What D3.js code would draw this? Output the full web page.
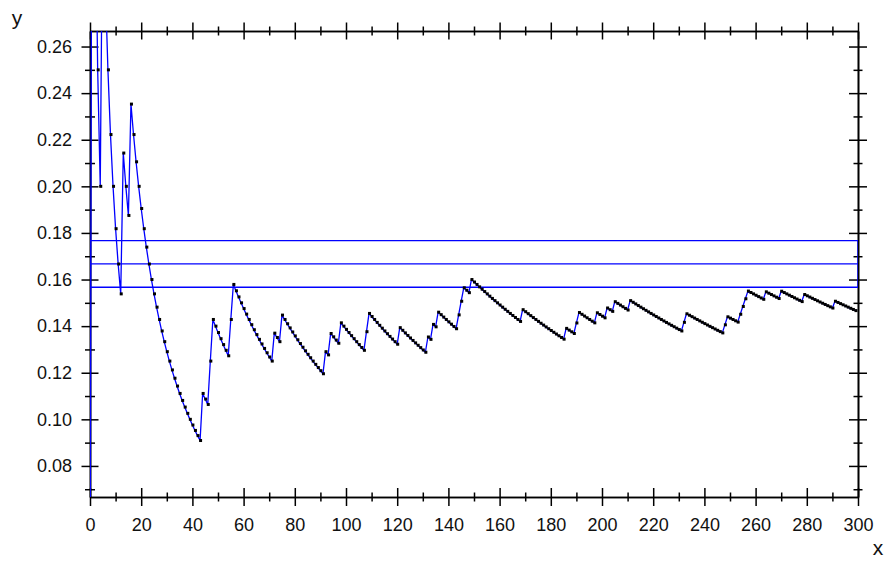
<!DOCTYPE html>
<html>
<head>
<meta charset="utf-8">
<script src="https://cdn.jsdelivr.net/npm/d3@7"></script>
<style>
  body { margin: 0; background: #fff; }
  svg { display: block; }
  text { font-family: "Liberation Sans", Arial, sans-serif; fill: #111; }
</style>
</head>
<body>
<svg id="chart" width="887" height="569"></svg>
<script>
// Roll numbers (1-based) on which a six came up, over 300 rolls of a die
const sixAt = [2, 6, 14, 17, 45, 48, 49, 56, 57, 73, 76, 93, 95, 99, 109, 110,
  122, 133, 135, 137, 145, 146, 147, 150, 170, 187, 191, 192, 199, 203, 206, 212,
  233, 234, 249, 250, 255, 256, 257, 258, 265, 271, 280, 292];
const rollCount = 300;

// Reference levels: 1/6 and a ±0.01 band around it
const refLevels = [0.1567, 0.1667, 0.1767];

// Tick values
const xMajor = [0, 20, 40, 60, 80, 100, 120, 140, 160, 180, 200, 220, 240, 260, 280, 300];
const xMinor = [10, 30, 50, 70, 90, 110, 130, 150, 170, 190, 210, 230, 250, 270, 290];
const yMajor = [0.08, 0.10, 0.12, 0.14, 0.16, 0.18, 0.20, 0.22, 0.24, 0.26];
const yMinor = [0.07, 0.09, 0.11, 0.13, 0.15, 0.17, 0.19, 0.21, 0.23, 0.25];

// Running relative frequency of sixes; the point for roll n sits at x = n - 1
const hits = new Set(sixAt);
let sixes = 0;
const freq = d3.range(1, rollCount + 1).map(n => {
  if (hits.has(n)) sixes += 1;
  return { x: n - 1, y: sixes / n };
});

const svg = d3.select("#chart");
const pLeft = 90, pRight = 858, pTop = 31, pBottom = 497;

const x = d3.scaleLinear().domain([0, 300]).range([pLeft, pRight]);
const y = d3.scaleLinear().domain([1 / 6 - 0.1, 1 / 6 + 0.1]).range([pBottom, pTop]);

const axisColor = "#000";

function styleAxis(g) {
  g.select(".domain").attr("stroke", axisColor).attr("stroke-width", 1.6);
  g.selectAll(".tick line").attr("stroke", axisColor).attr("stroke-width", 1.5);
}

// Bottom axis with labels; ticks cross the axis line
const bMaj = svg.append("g").attr("transform", `translate(0,${pBottom})`)
  .call(d3.axisBottom(x).tickValues(xMajor).tickSize(0).tickSizeOuter(0).tickPadding(21));
bMaj.selectAll(".tick line").attr("y1", -9).attr("y2", 9);
bMaj.selectAll(".tick text").attr("font-size", 18);
styleAxis(bMaj);
const bMin = svg.append("g").attr("transform", `translate(0,${pBottom})`)
  .call(d3.axisBottom(x).tickValues(xMinor).tickFormat("").tickSize(0).tickSizeOuter(0));
bMin.selectAll(".tick line").attr("y1", -4.5).attr("y2", 4.5);
styleAxis(bMin);

// Top axis, ticks only
const tMaj = svg.append("g").attr("transform", `translate(0,${pTop})`)
  .call(d3.axisTop(x).tickValues(xMajor).tickFormat("").tickSize(0).tickSizeOuter(0));
tMaj.selectAll(".tick line").attr("y1", -8.5).attr("y2", 8.5);
styleAxis(tMaj);
const tMin = svg.append("g").attr("transform", `translate(0,${pTop})`)
  .call(d3.axisTop(x).tickValues(xMinor).tickFormat("").tickSize(0).tickSizeOuter(0));
tMin.selectAll(".tick line").attr("y1", -4.5).attr("y2", 4.5);
styleAxis(tMin);

// Left axis with labels
const lMaj = svg.append("g").attr("transform", `translate(${pLeft},0)`)
  .call(d3.axisLeft(y).tickValues(yMajor).tickFormat(d3.format(".2f"))
    .tickSize(0).tickSizeOuter(0).tickPadding(18));
lMaj.selectAll(".tick line").attr("x1", -8.5).attr("x2", 8.5);
lMaj.selectAll(".tick text").attr("font-size", 18);
styleAxis(lMaj);
const lMin = svg.append("g").attr("transform", `translate(${pLeft},0)`)
  .call(d3.axisLeft(y).tickValues(yMinor).tickFormat("").tickSize(0).tickSizeOuter(0));
lMin.selectAll(".tick line").attr("x1", -5).attr("x2", 5);
styleAxis(lMin);

// Right axis, ticks only
const rMaj = svg.append("g").attr("transform", `translate(${pRight},0)`)
  .call(d3.axisRight(y).tickValues(yMajor).tickFormat("").tickSize(0).tickSizeOuter(0));
rMaj.selectAll(".tick line").attr("x1", -9).attr("x2", 9);
styleAxis(rMaj);
const rMin = svg.append("g").attr("transform", `translate(${pRight},0)`)
  .call(d3.axisRight(y).tickValues(yMinor).tickFormat("").tickSize(0).tickSizeOuter(0));
rMin.selectAll(".tick line").attr("x1", -4.5).attr("x2", 4.5);
styleAxis(rMin);

// Axis titles
svg.append("text").attr("x", 17).attr("y", 25).attr("text-anchor", "middle")
  .attr("font-size", 21).text("y");
svg.append("text").attr("x", 878).attr("y", 555).attr("text-anchor", "middle")
  .attr("font-size", 21).text("x");

// Plot-area clip
svg.append("clipPath").attr("id", "plotClip")
  .append("rect").attr("x", pLeft).attr("y", pTop)
  .attr("width", pRight - pLeft).attr("height", pBottom - pTop);

const plot = svg.append("g").attr("clip-path", "url(#plotClip)");

const blue = "#0000ff";

// Band: outline of the ±0.01 strip plus the 1/6 line
const [lo, mid, hi] = refLevels;
plot.append("path")
  .attr("d", d3.line()([[x(0), y(hi)], [x(300), y(hi)], [x(300), y(lo)], [x(0), y(lo)], [x(0), y(hi)]]))
  .attr("fill", "none").attr("stroke", blue).attr("stroke-width", 1.4);
plot.append("line")
  .attr("x1", x(0)).attr("x2", x(300)).attr("y1", y(mid)).attr("y2", y(mid))
  .attr("stroke", blue).attr("stroke-width", 1.4);

// Relative-frequency polyline
plot.append("path")
  .datum(freq)
  .attr("d", d3.line().x(d => x(d.x)).y(d => y(d.y)))
  .attr("fill", "none").attr("stroke", blue).attr("stroke-width", 1.3)
  .attr("stroke-linejoin", "round");

// Point markers
plot.selectAll("rect.pt").data(freq).join("rect")
  .attr("class", "pt")
  .attr("x", d => x(d.x) - 1)
  .attr("y", d => y(d.y) - 1.5)
  .attr("width", 3).attr("height", 3)
  .attr("fill", "#000");
</script>
</body>
</html>
